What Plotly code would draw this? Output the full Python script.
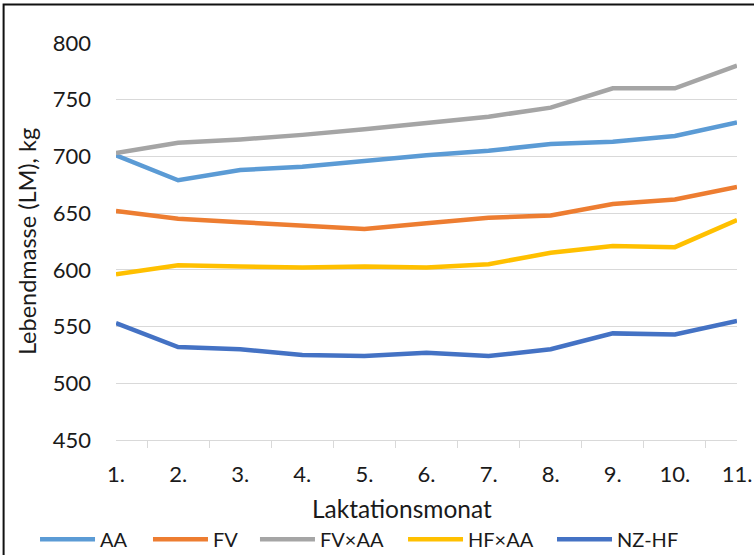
import plotly.graph_objects as go

# Lactation month categories
months = ["1.", "2.", "3.", "4.", "5.", "6.", "7.", "8.", "9.", "10.", "11."]

# Live weight (kg) per breed group
aa = [701, 679, 688, 691, 696, 701, 705, 711, 713, 718, 730]
fv = [652, 645, 642, 639, 636, 641, 646, 648, 658, 662, 673]
fv_aa = [703, 712, 715, 719, 724, 729, 735, 743, 760, 760, 780]
hf_aa = [596, 604, 603, 602, 603, 602, 605, 615, 621, 620, 644]
nz_hf = [553, 532, 530, 525, 524, 527, 524, 530, 544, 543, 555]

series = [
    ("AA", aa, "#5B9BD5"),
    ("FV", fv, "#ED7D31"),
    ("FV×AA", fv_aa, "#A5A5A5"),
    ("HF×AA", hf_aa, "#FFC000"),
    ("NZ-HF", nz_hf, "#4472C4"),
]

# Left edge of each legend entry, as a fraction of the plot width
legend_x = [-0.1304, 0.0515, 0.2238, 0.4622, 0.7021]

FONT = "Lato, 'Open Sans', sans-serif"
TEXT = "#1a1a1a"

fig = go.Figure()
layout_legends = {}
for i, (name, vals, color) in enumerate(series):
    key = "legend" if i == 0 else f"legend{i + 1}"
    fig.add_trace(go.Scatter(
        x=months, y=vals, name=name, mode="lines",
        line=dict(color=color, width=4.5), legend=key,
    ))
    layout_legends[key] = dict(
        orientation="h", x=legend_x[i], xanchor="left",
        y=-0.25, yanchor="middle",
        font=dict(size=20, color=TEXT), itemwidth=55,
        bgcolor="rgba(0,0,0,0)",
    )

fig.update_layout(
    width=754, height=555,
    margin=dict(l=116, r=17, t=43, b=115, autoexpand=False),
    paper_bgcolor="white", plot_bgcolor="white",
    font=dict(family=FONT, color=TEXT, size=22),
    showlegend=True,
    xaxis=dict(
        type="category",
        showgrid=False,
        showline=True, linecolor="#D9D9D9", linewidth=1.3,
        ticks="outside", tickson="boundaries", ticklen=7,
        tickcolor="#D9D9D9", tickwidth=1.3,
        ticklabelstandoff=14,
        tickfont=dict(size=22),
    ),
    yaxis=dict(
        range=[450, 800], dtick=50, tick0=450,
        showgrid=True, gridcolor="#D9D9D9", gridwidth=1.3,
        zeroline=False, showline=False,
        ticks="", ticklabelstandoff=24,
        tickfont=dict(size=22),
        title=dict(text="Lebendmasse (LM), kg", font=dict(size=23.5), standoff=9),
    ),
    annotations=[dict(
        text="Laktationsmonat", xref="paper", yref="paper",
        x=0.4606, y=-0.172, xanchor="center", yanchor="middle",
        showarrow=False, font=dict(size=24.5, color=TEXT),
    )],
    shapes=[dict(
        type="rect", xref="paper", yref="paper",
        x0=-0.181, x1=1.2, y0=-0.4, y1=1.097,
        line=dict(color="#111111", width=2), fillcolor="rgba(0,0,0,0)",
        layer="above",
    )],
    **layout_legends,
)

fig.write_html("out.html")
